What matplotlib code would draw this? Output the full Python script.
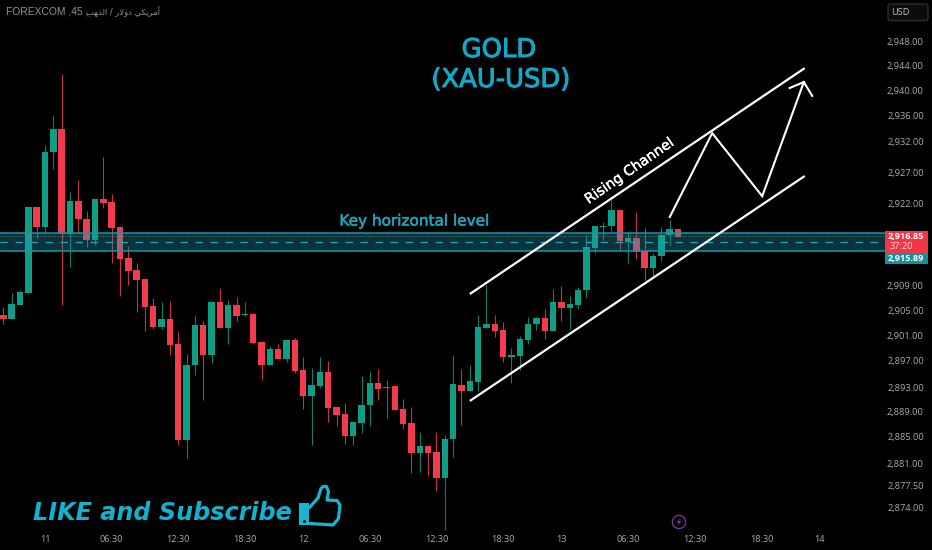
import matplotlib
matplotlib.use("Agg")
import matplotlib.pyplot as plt
import matplotlib.patheffects as pe
import numpy as np
from matplotlib.patches import Rectangle, FancyBboxPatch, Polygon, Circle

opens = [2904.6,2903.9,2906.2,2908.0,2921.7,2918.5,2930.4,2934.05,2917.4,2922.6,
         2919.8,2916.5,2923.0,2922.5,2918.5,2913.6,2911.7,2910.3,2906.0,2902.7,
         2903.95,2900.0,2884.8,2896.65,2903.0,2898.25,2906.65,2902.5,2906.15,2904.5,
         2904.7,2900.3,2896.65,2899.2,2897.6,2900.6,2895.85,2891.75,2893.3,2895.55,
         2890.0,2888.9,2885.4,2887.45,2890.3,2893.8,2893.0,2893.3,2889.65,2887.45,
         2882.7,2883.8,2882.85,2878.75,2884.9,2893.5,2892.55,2894.0,2902.5,2903.15,
         2902.2,2897.9,2898.05,2900.6,2903.15,2904.1,2902.0,2906.65,2905.7,2906.15,
         2908.5,2915.2,2918.5,2918.65,2921.2,2916.2,2916.8,2914.7,2912.05,2913.95,
         2917.25,2918.2]
highs = [2905.8,2908.0,2908.5,2921.85,2921.7,2931.5,2936.3,2942.8,2924.1,2926.0,
         2921.1,2923.0,2929.6,2923.75,2918.5,2915.5,2912.8,2910.3,2907.25,2906.6,
         2906.8,2901.9,2898.4,2904.6,2903.65,2906.8,2908.85,2906.95,2907.4,2906.65,
         2904.9,2900.45,2899.65,2900.0,2900.75,2900.9,2897.9,2896.2,2897.9,2897.3,
         2890.0,2890.6,2887.6,2894.9,2895.55,2896.0,2894.25,2893.5,2891.25,2890.0,
         2886.0,2883.8,2886.0,2885.55,2898.25,2896.0,2896.65,2904.6,2909.3,2904.6,
         2903.5,2899.35,2901.25,2904.25,2904.25,2905.5,2908.7,2909.15,2907.6,2909.0,
         2917.25,2918.65,2919.3,2922.8,2921.2,2917.6,2920.9,2918.35,2914.45,2918.5,
         2919.65,2918.2]
lows = [2903.2,2903.9,2906.2,2908.0,2916.8,2917.7,2927.7,2906.15,2912.2,2917.4,
        2915.35,2915.7,2921.5,2912.8,2907.6,2909.3,2905.05,2902.0,2902.35,2902.35,
        2898.25,2884.0,2881.9,2895.05,2891.1,2897.0,2902.5,2900.0,2903.65,2904.4,
        2900.0,2894.25,2896.65,2897.6,2897.15,2895.4,2889.65,2883.95,2893.0,2887.6,
        2887.0,2884.1,2883.95,2885.85,2887.0,2891.1,2888.25,2889.5,2886.5,2879.55,
        2879.7,2879.05,2876.7,2870.5,2882.05,2887.15,2892.55,2892.55,2902.5,2901.1,
        2897.1,2893.8,2895.85,2900.0,2902.2,2900.75,2902.0,2903.65,2902.2,2905.5,
        2907.25,2914.4,2916.5,2917.85,2914.9,2912.8,2913.45,2910.1,2910.4,2913.15,
        2915.65,2916.95]
closes = [2903.9,2906.3,2908.2,2921.7,2918.5,2930.4,2934.05,2917.4,2922.6,2919.8,
          2916.5,2923.0,2922.3,2918.4,2913.45,2911.55,2910.1,2905.85,2902.7,2903.95,
          2899.85,2884.8,2896.65,2903.0,2898.25,2906.65,2902.5,2906.15,2904.4,2904.7,
          2900.15,2896.65,2899.2,2897.6,2900.6,2895.7,2891.75,2893.5,2895.55,2889.85,
          2888.7,2885.4,2887.6,2890.3,2893.8,2892.85,2893.15,2889.5,2887.3,2882.7,
          2883.8,2882.7,2878.75,2884.9,2893.65,2892.55,2894.1,2902.7,2903.15,2902.0,
          2897.9,2898.25,2900.75,2903.15,2904.1,2902.0,2906.65,2905.7,2906.3,2908.5,
          2915.35,2918.65,2918.65,2921.2,2916.35,2916.8,2914.6,2912.05,2914.0,2917.25,
          2918.2,2916.95]

price_tick_pos = [2948.0,2944.1,2940.2,2936.2,2932.15,2927.2,2922.3,2909.2,2905.3,2901.25,
                  2897.3,2893.15,2889.2,2885.25,2881.1,2877.6,2874.0]
price_tick_labels = ["2,948.00","2,944.00","2,940.00","2,936.00","2,932.00","2,927.00","2,922.00",
                     "2,909.00","2,905.00","2,901.00","2,897.00","2,893.00","2,889.00","2,885.00",
                     "2,881.00","2,877.50","2,874.00"]
time_tick_pos = [5,13,21,29,36,44,52,60,67,75,83,91,98]
time_tick_labels = ["11","06:30","12:30","18:30","12","06:30","12:30","18:30","13","06:30","12:30","18:30","14"]

band_low, band_high = 2914.65, 2917.5
band_mid = 2916.1
last_price = 2917.05
upper_x, upper_y = [56.0,96.2], [2907.9,2943.7]
lower_x, lower_y = [56.0,96.2], [2890.95,2926.6]
path_x, path_y = [80.0,85.1,91.1,96.1], [2920.1,2933.4,2923.4,2941.5]
head_x, head_y = [94.4,96.1,97.1], [2940.55,2941.5,2939.3]

GREEN, RED = "#0f9e84", "#f23c4e"
GREEN_W, RED_W = "#0d7e6b", "#c4323f"
CYAN = "#12a9c6"
GREY = "#a8abb3"

W, H = 932, 550
fig = plt.figure(figsize=(W/100, H/100), dpi=100, facecolor="black")
ax = fig.add_axes([0, (H-532)/H, 885/W, 532/H], facecolor="black")
ax.set_xlim(-0.396, 105.84)
ax.set_ylim(2870.18, 2954.5)
for s in ax.spines.values():
    s.set_visible(False)

o, h, l, c = map(np.array, (opens, highs, lows, closes))
idx = np.arange(len(o))
up = c >= o
ax.vlines(idx, l, h, colors=[GREEN_W if u else RED_W for u in up], lw=0.8, zorder=2)
ax.bar(idx, np.abs(c-o), bottom=np.minimum(o, c), width=0.78,
       color=[GREEN if u else RED for u in up], linewidth=0, zorder=3)

# horizontal zone
ax.axhspan(band_low, band_high, color="#1f9fb4", alpha=0.33, lw=0, zorder=4)
ax.axhline(band_low, color="#1795a8", lw=1.1, zorder=5)
ax.axhline(band_high, color="#1795a8", lw=1.1, zorder=5)
ax.axhline(band_mid, color="#22a6c0", lw=0.9, ls=(0, (6, 6)), zorder=5)
ax.axhline(last_price, color="#7d8a8c", lw=0.6, ls=(0, (1, 2)), zorder=5)

# channel and projected path
ax.plot(upper_x, upper_y, color="white", lw=1.6, zorder=6, solid_capstyle="butt")
ax.plot(lower_x, lower_y, color="white", lw=1.6, zorder=6, solid_capstyle="butt")
ax.plot(path_x, path_y, color="white", lw=1.5, zorder=6, solid_joinstyle="miter")
ax.plot(head_x, head_y, color="white", lw=1.5, zorder=6, solid_joinstyle="miter")

ax.yaxis.tick_right()
ax.set_yticks(price_tick_pos)
ax.set_yticklabels(price_tick_labels, fontname="Open Sans", fontsize=6.7, color=GREY, ha="right")
ax.tick_params(axis="y", length=0, pad=28)
ax.set_xticks(time_tick_pos)
ax.set_xticklabels(time_tick_labels, fontname="Open Sans", fontsize=6.6, color=GREY)
ax.tick_params(axis="x", length=0, pad=2.5)

# overlay in pixels
ov = fig.add_axes([0, 0, 1, 1], facecolor="none")
ov.set_xlim(0, W)
ov.set_ylim(H, 0)
ov.axis("off")

ov.text(6, 12, "FOREXCOM ,45 ,", fontname="Liberation Sans", fontsize=7.4, color="#8f9197", va="center", ha="left")
arabic = "\uFE90\uFEEC\uFEAC\uFEDF\uFE8D / \uFEAD\uFEFB\uFEED\uFEA9 \uFEF2\uFEDC\uFEF3\uFEAE\uFEE3\uFE83"
ov.text(160, 12, arabic, fontname="DejaVu Sans", fontsize=6.0, color="#8f9197", va="center", ha="right")

def thick(color, w):
    return [pe.withStroke(linewidth=w, foreground=color)]

t1 = ov.text(499, 50, "GOLD", fontname="DejaVu Sans", fontsize=18.6, color=CYAN, ha="center", va="center")
t2 = ov.text(501, 80, "(XAU-USD)", fontname="DejaVu Sans", fontsize=18.6, color=CYAN, ha="center", va="center")
t1.set_path_effects(thick(CYAN, 0.7)); t2.set_path_effects(thick(CYAN, 0.7))
t3 = ov.text(414.5, 221, "Key horizontal level", fontname="DejaVu Sans", fontsize=11, color="#1ea3b8", ha="center", va="center")
t3.set_path_effects(thick("#1ea3b8", 0.4))
t4 = ov.text(629.5, 171, "Rising Channel", fontname="DejaVu Sans", fontsize=10.1, color="white", ha="center", va="center",
        rotation=34.7, rotation_mode="anchor")
t4.set_path_effects(thick("white", 0.3))
ov.text(33, 513, "LIKE and Subscribe", fontname="DejaVu Sans", fontstyle="oblique", fontweight="bold",
        fontsize=17.2, color="#10b2ce", ha="left", va="center")

# thumbs-up
tc = "#18b4d0"
ov.add_patch(Rectangle((299, 503), 10, 22, facecolor=tc, edgecolor="none"))
ov.add_patch(Circle((304.5, 521.5), 1.4, facecolor="black", edgecolor="none"))
tx = [309, 318, 321, 323, 326.5, 328.5, 327, 337, 340, 338.5, 333, 310]
ty = [508, 498, 488.5, 486.5, 486.5, 491.5, 500, 500.5, 505, 518.5, 525, 523.5]
ov.plot(tx, ty, color=tc, lw=2.3, solid_joinstyle="round", solid_capstyle="round")

# lightning badge
ov.add_patch(Circle((679, 522), 6.6, facecolor="none", edgecolor="#6f3a8f", lw=1.0))
ov.add_patch(Polygon([(681, 517.5), (676.5, 522.8), (679, 522.8), (677, 526.5), (681.5, 521.2), (679, 521.2)],
                     facecolor="#7d429f", edgecolor="none"))

# USD button
ov.add_patch(FancyBboxPatch((888, 4), 40, 16.5, boxstyle="round,pad=0,rounding_size=2.5",
                            facecolor="#0b0b0d", edgecolor="#303236", lw=0.9))
ov.text(900.5, 12.5, "USD", fontname="Open Sans", fontsize=6.6, color="#c5c7cc", ha="center", va="center")

# price labels
ov.add_patch(Rectangle((884.5, 231), 43.5, 21.5, facecolor="#f23645", edgecolor="none"))
ov.add_patch(Rectangle((884.5, 252.5), 43.5, 11.5, facecolor="#12929f", edgecolor="none"))
ov.text(924.5, 236.5, "2,916.85", fontname="Open Sans", fontsize=6.6, fontweight="bold", color="white", ha="right", va="center")
ov.text(890, 246.5, "37:20", fontname="Open Sans", fontsize=6.6, color="#ffd9dc", ha="left", va="center")
ov.text(924.5, 258, "2,915.89", fontname="Open Sans", fontsize=6.6, fontweight="bold", color="white", ha="right", va="center")

fig.savefig("out.png", dpi=100, facecolor="black")
